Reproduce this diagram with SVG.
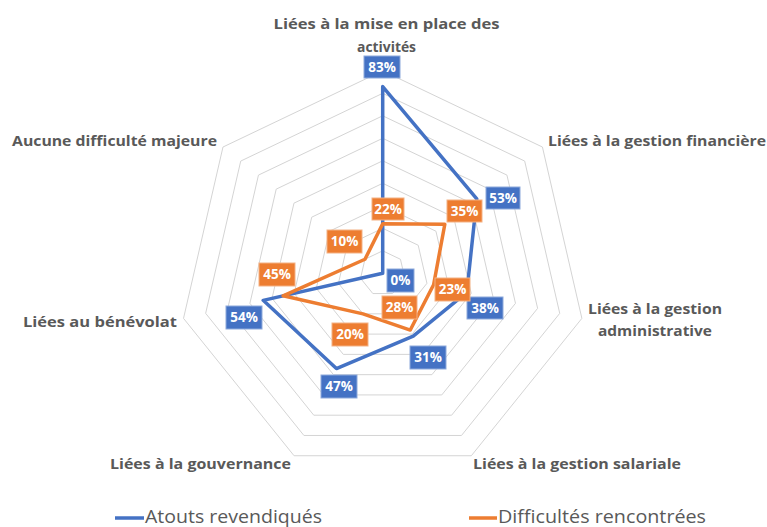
<svg xmlns="http://www.w3.org/2000/svg" xmlns:xlink="http://www.w3.org/1999/xlink" width="767" height="527" viewBox="0 0 767 527">
<style>
.ring{fill:none;stroke:#d4d4d4;stroke-width:1}
.ser{fill:none;stroke-width:3.5;stroke-linejoin:round;vector-effect:non-scaling-stroke}
.blue{stroke:#4472c4}
.orange{stroke:#ed7d31}
.bb{fill:#4472c4;stroke:#8eaadb;stroke-width:1}
.ob{fill:#ed7d31;stroke:#f4b183;stroke-width:1}
.lt{font-family:"Open Sans","Liberation Sans",sans-serif;font-size:13.5px;font-weight:bold;fill:#ffffff;text-anchor:middle}
.ax{font-family:"Open Sans","Liberation Sans",sans-serif;font-size:15px;font-weight:bold;fill:#595959;text-anchor:middle}
.lg{font-family:"Open Sans","Liberation Sans",sans-serif;font-size:18px;fill:#595959}
</style>
<defs>
<polygon id="hept" vector-effect="non-scaling-stroke" points="0,-1 0.78183,-0.62349 0.97493,0.22252 0.43388,0.90097 -0.43388,0.90097 -0.97493,0.22252 -0.78183,-0.62349"/>
</defs>
<rect width="767" height="527" fill="#ffffff"/>
<g id="grid">
<use class="ring" xlink:href="#hept" transform="translate(382.7 273.3) scale(22.7 22.5)"/>
<use class="ring" xlink:href="#hept" transform="translate(382.7 273.3) scale(45.4 45)"/>
<use class="ring" xlink:href="#hept" transform="translate(382.7 273.3) scale(68.1 67.5)"/>
<use class="ring" xlink:href="#hept" transform="translate(382.7 273.3) scale(90.8 90)"/>
<use class="ring" xlink:href="#hept" transform="translate(382.7 273.3) scale(113.5 112.5)"/>
<use class="ring" xlink:href="#hept" transform="translate(382.7 273.3) scale(136.2 135)"/>
<use class="ring" xlink:href="#hept" transform="translate(382.7 273.3) scale(158.9 157.5)"/>
<use class="ring" xlink:href="#hept" transform="translate(382.7 273.3) scale(181.6 180)"/>
<use class="ring" xlink:href="#hept" transform="translate(382.7 273.3) scale(204.3 202.5)"/>
</g>
<g id="connectors" transform="translate(382.7 273.3) scale(22.7 22.5)">
<polygon id="serie-atouts" class="ser blue" points="0,-8.3 4.1437,-3.3045 3.7047,0.8456 1.345,2.793 -2.0392,4.2346 -5.2646,1.2016 0,0"/>
<polygon id="serie-difficultes" class="ser orange" points="0,-2.2 2.7364,-2.1822 2.2423,0.5118 1.2149,2.5227 -0.8678,1.8019 -4.3872,1.0013 -0.7818,-0.6235"/>
</g>
<g id="labels-atouts">
<g id="lb-83"><rect class="bb" x="364" y="56" width="36" height="22"/><text class="lt" x="382" y="71.5">83%</text></g>
<g id="lb-53"><rect class="bb" x="486" y="187" width="34" height="22"/><text class="lt" x="503" y="202.5">53%</text></g>
<g id="lb-38"><rect class="bb" x="467" y="297" width="36" height="22"/><text class="lt" x="485" y="312.5">38%</text></g>
<g id="lb-31"><rect class="bb" x="410" y="346" width="36" height="23"/><text class="lt" x="428" y="362">31%</text></g>
<g id="lb-47"><rect class="bb" x="321" y="375" width="36" height="23"/><text class="lt" x="339" y="391">47%</text></g>
<g id="lb-54"><rect class="bb" x="226" y="306" width="36" height="23"/><text class="lt" x="244" y="322">54%</text></g>
<g id="lb-0"><rect class="bb" x="387" y="269" width="27" height="23"/><text class="lt" x="400.5" y="285">0%</text></g>
</g>
<g id="labels-difficultes">
<g id="lb-22"><rect class="ob" x="372" y="198" width="32" height="22"/><text class="lt" x="388" y="213.5">22%</text></g>
<g id="lb-35"><rect class="ob" x="447" y="200" width="35" height="22"/><text class="lt" x="464.5" y="215.5">35%</text></g>
<g id="lb-23"><rect class="ob" x="435" y="278" width="35" height="23"/><text class="lt" x="452.5" y="294">23%</text></g>
<g id="lb-28"><rect class="ob" x="382" y="296" width="35" height="23"/><text class="lt" x="399.5" y="312">28%</text></g>
<g id="lb-20"><rect class="ob" x="332" y="323" width="36" height="23"/><text class="lt" x="350" y="339">20%</text></g>
<g id="lb-45"><rect class="ob" x="259" y="263" width="36" height="23"/><text class="lt" x="277" y="279">45%</text></g>
<g id="lb-10"><rect class="ob" x="327" y="230" width="35" height="23"/><text class="lt" x="344.5" y="246">10%</text></g>
</g>
<g id="axis-activites"><text class="ax" x="386.5" y="29" textLength="226" lengthAdjust="spacingAndGlyphs">Liées à la mise en place des</text><text class="ax" x="386.5" y="52" textLength="59" lengthAdjust="spacingAndGlyphs">activités</text></g>
<g id="axis-financiere"><text class="ax" x="657" y="146" textLength="218" lengthAdjust="spacingAndGlyphs">Liées à la gestion financière</text></g>
<g id="axis-administrative"><text class="ax" x="655" y="314" textLength="134" lengthAdjust="spacingAndGlyphs">Liées à la gestion</text><text class="ax" x="655" y="336" textLength="114" lengthAdjust="spacingAndGlyphs">administrative</text></g>
<g id="axis-salariale"><text class="ax" x="577" y="469" textLength="208" lengthAdjust="spacingAndGlyphs">Liées à la gestion salariale</text></g>
<g id="axis-gouvernance"><text class="ax" x="200.5" y="469" textLength="181" lengthAdjust="spacingAndGlyphs">Liées à la gouvernance</text></g>
<g id="axis-benevolat"><text class="ax" x="100" y="327" textLength="154" lengthAdjust="spacingAndGlyphs">Liées au bénévolat</text></g>
<g id="axis-aucune"><text class="ax" x="114.5" y="146" textLength="205" lengthAdjust="spacingAndGlyphs">Aucune difficulté majeure</text></g>
<g id="legend">
<line x1="115" y1="518" x2="144" y2="518" stroke="#4472c4" stroke-width="3.5"/>
<text class="lg" x="145" y="523" textLength="177" lengthAdjust="spacingAndGlyphs">Atouts revendiqués</text>
<line x1="469" y1="518" x2="497" y2="518" stroke="#ed7d31" stroke-width="3.5"/>
<text class="lg" x="498" y="523" textLength="208" lengthAdjust="spacingAndGlyphs">Difficultés rencontrées</text>
</g>
</svg>
